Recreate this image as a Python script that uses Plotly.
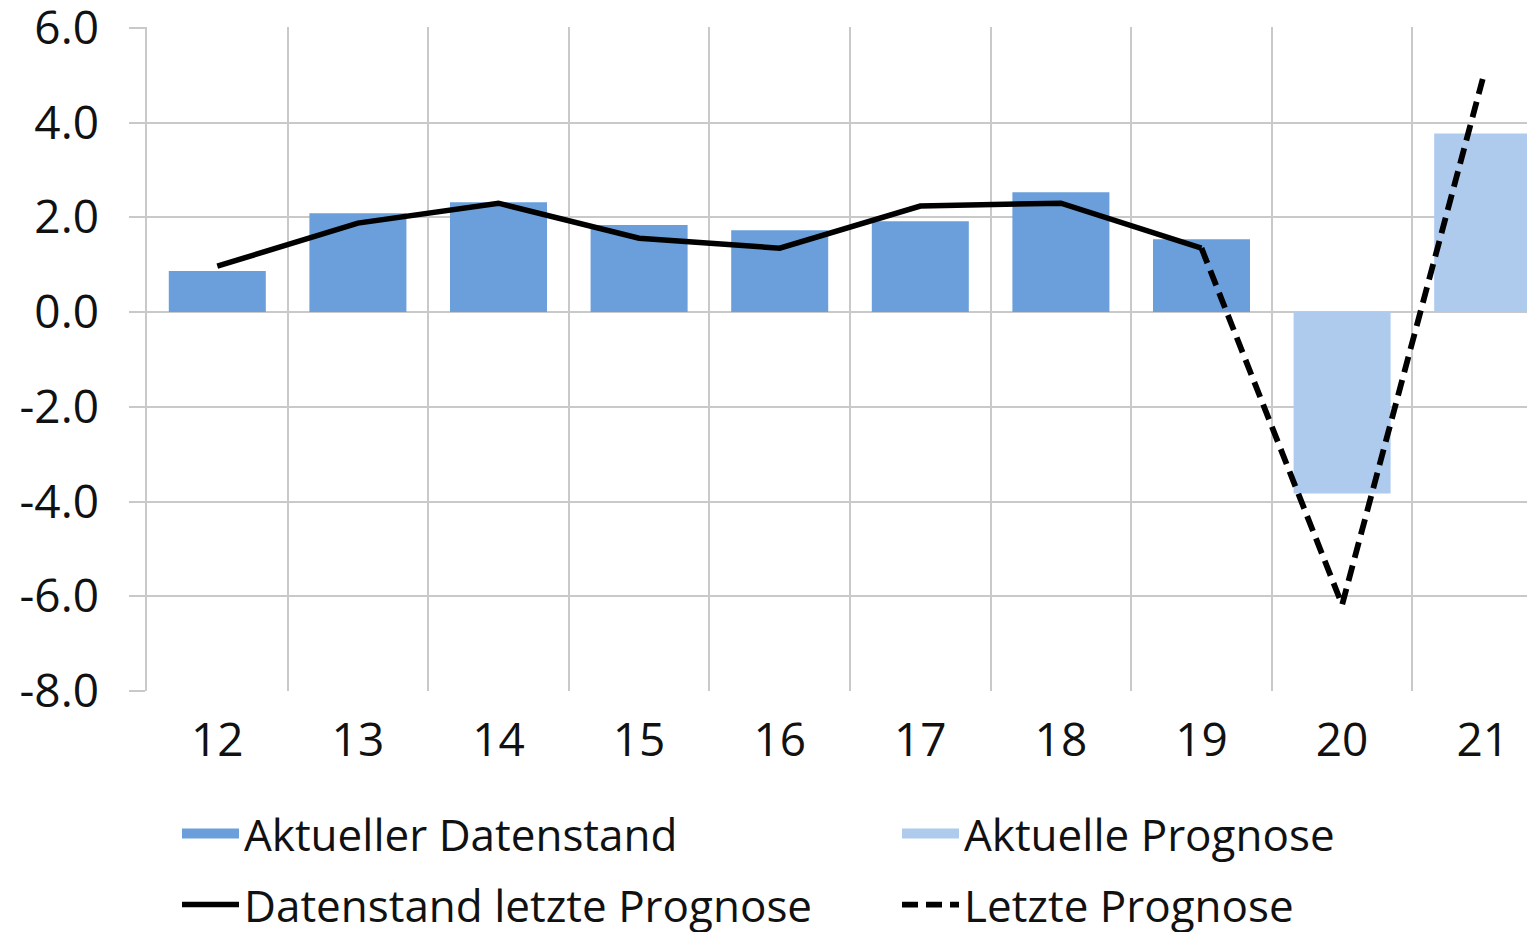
import plotly.graph_objects as go

categories = ["12", "13", "14", "15", "16", "17", "18", "19", "20", "21"]
aktueller_datenstand = [0.87, 2.09, 2.32, 1.84, 1.73, 1.92, 2.53, 1.54, None, None]
aktuelle_prognose = [None, None, None, None, None, None, None, None, -3.83, 3.77]
datenstand_letzte_prognose = [0.97, 1.88, 2.30, 1.56, 1.35, 2.24, 2.30, 1.35, None, None]
letzte_prognose = [None, None, None, None, None, None, None, 1.35, -6.18, 4.92]
y_tickvals = [-8, -6, -4, -2, 0, 2, 4, 6]
y_ticktext = ["-8.0", "-6.0", "-4.0", "-2.0", "0.0", "2.0", "4.0", "6.0"]

FONT = "Open Sans"
GRID = "#c9c9c9"
TXT = "#111111"
C_DARK = "#6a9fdb"
C_LIGHT = "#aecbee"

# page body has an 8px margin; figure sized so it ends at the window edge
W, H = 1527, 924

fig = go.Figure()
fig.add_trace(go.Bar(x=categories, y=aktueller_datenstand, name="Aktueller Datenstand",
                     marker=dict(color=C_DARK, line=dict(width=0)), width=0.69,
                     legendgroup="a", showlegend=False))
fig.add_trace(go.Bar(x=categories, y=aktuelle_prognose, name="Aktuelle Prognose",
                     marker=dict(color=C_LIGHT, line=dict(width=0)), width=0.69,
                     legendgroup="b", showlegend=False))
fig.add_trace(go.Scatter(x=categories, y=datenstand_letzte_prognose, name="Datenstand letzte Prognose",
                         mode="lines", line=dict(color="black", width=5.5), legend="legend3"))
fig.add_trace(go.Scatter(x=categories, y=letzte_prognose, name="Letzte Prognose",
                         mode="lines", line=dict(color="black", width=5.8, dash="16px,8px"),
                         legend="legend4"))
# legend keys for the bar series (wide rectangles as in the reference)
fig.add_trace(go.Scatter(x=[None], y=[None], name="Aktueller Datenstand", mode="lines",
                         line=dict(color=C_DARK, width=27), legendgroup="a", legend="legend"))
fig.add_trace(go.Scatter(x=[None], y=[None], name="Aktuelle Prognose", mode="lines",
                         line=dict(color=C_LIGHT, width=27), legendgroup="b", legend="legend2"))

def leg(px, py):
    return dict(orientation="h", xref="container", yref="container",
                x=px / W, xanchor="left", y=1 - py / H, yanchor="middle",
                itemwidth=57, font=dict(family=FONT, size=44, color=TXT),
                bgcolor="rgba(0,0,0,0)")

fig.update_layout(
    width=W, height=H,
    margin=dict(l=139, r=0, t=19, b=241, autoexpand=False),
    paper_bgcolor="white", plot_bgcolor="white",
    barmode="overlay",
    font=dict(family=FONT, size=46, color=TXT),
    showlegend=True,
    legend=leg(169, 826),
    legend2=leg(889, 826),
    legend3=leg(169, 897),
    legend4=leg(889, 897),
)
fig.update_xaxes(type="category", categoryorder="array", categoryarray=categories,
                 range=[-0.5, 9.372], tickson="boundaries", showgrid=True,
                 gridcolor=GRID, gridwidth=1.5, ticks="", showline=False,
                 zeroline=False, ticklabelstandoff=18, ticklabeloverflow="allow")
fig.update_yaxes(range=[-8, 6.02], tickmode="array", tickvals=y_tickvals, ticktext=y_ticktext,
                 showgrid=True, gridcolor=GRID, gridwidth=1.5, zeroline=True,
                 zerolinecolor=GRID, zerolinewidth=1.5, ticks="outside", ticklen=16,
                 tickcolor=GRID, tickwidth=1.5, showline=True, linecolor=GRID, linewidth=1.5,
                 ticklabelstandoff=21, ticklabeloverflow="allow")

fig.write_html("out.html")
